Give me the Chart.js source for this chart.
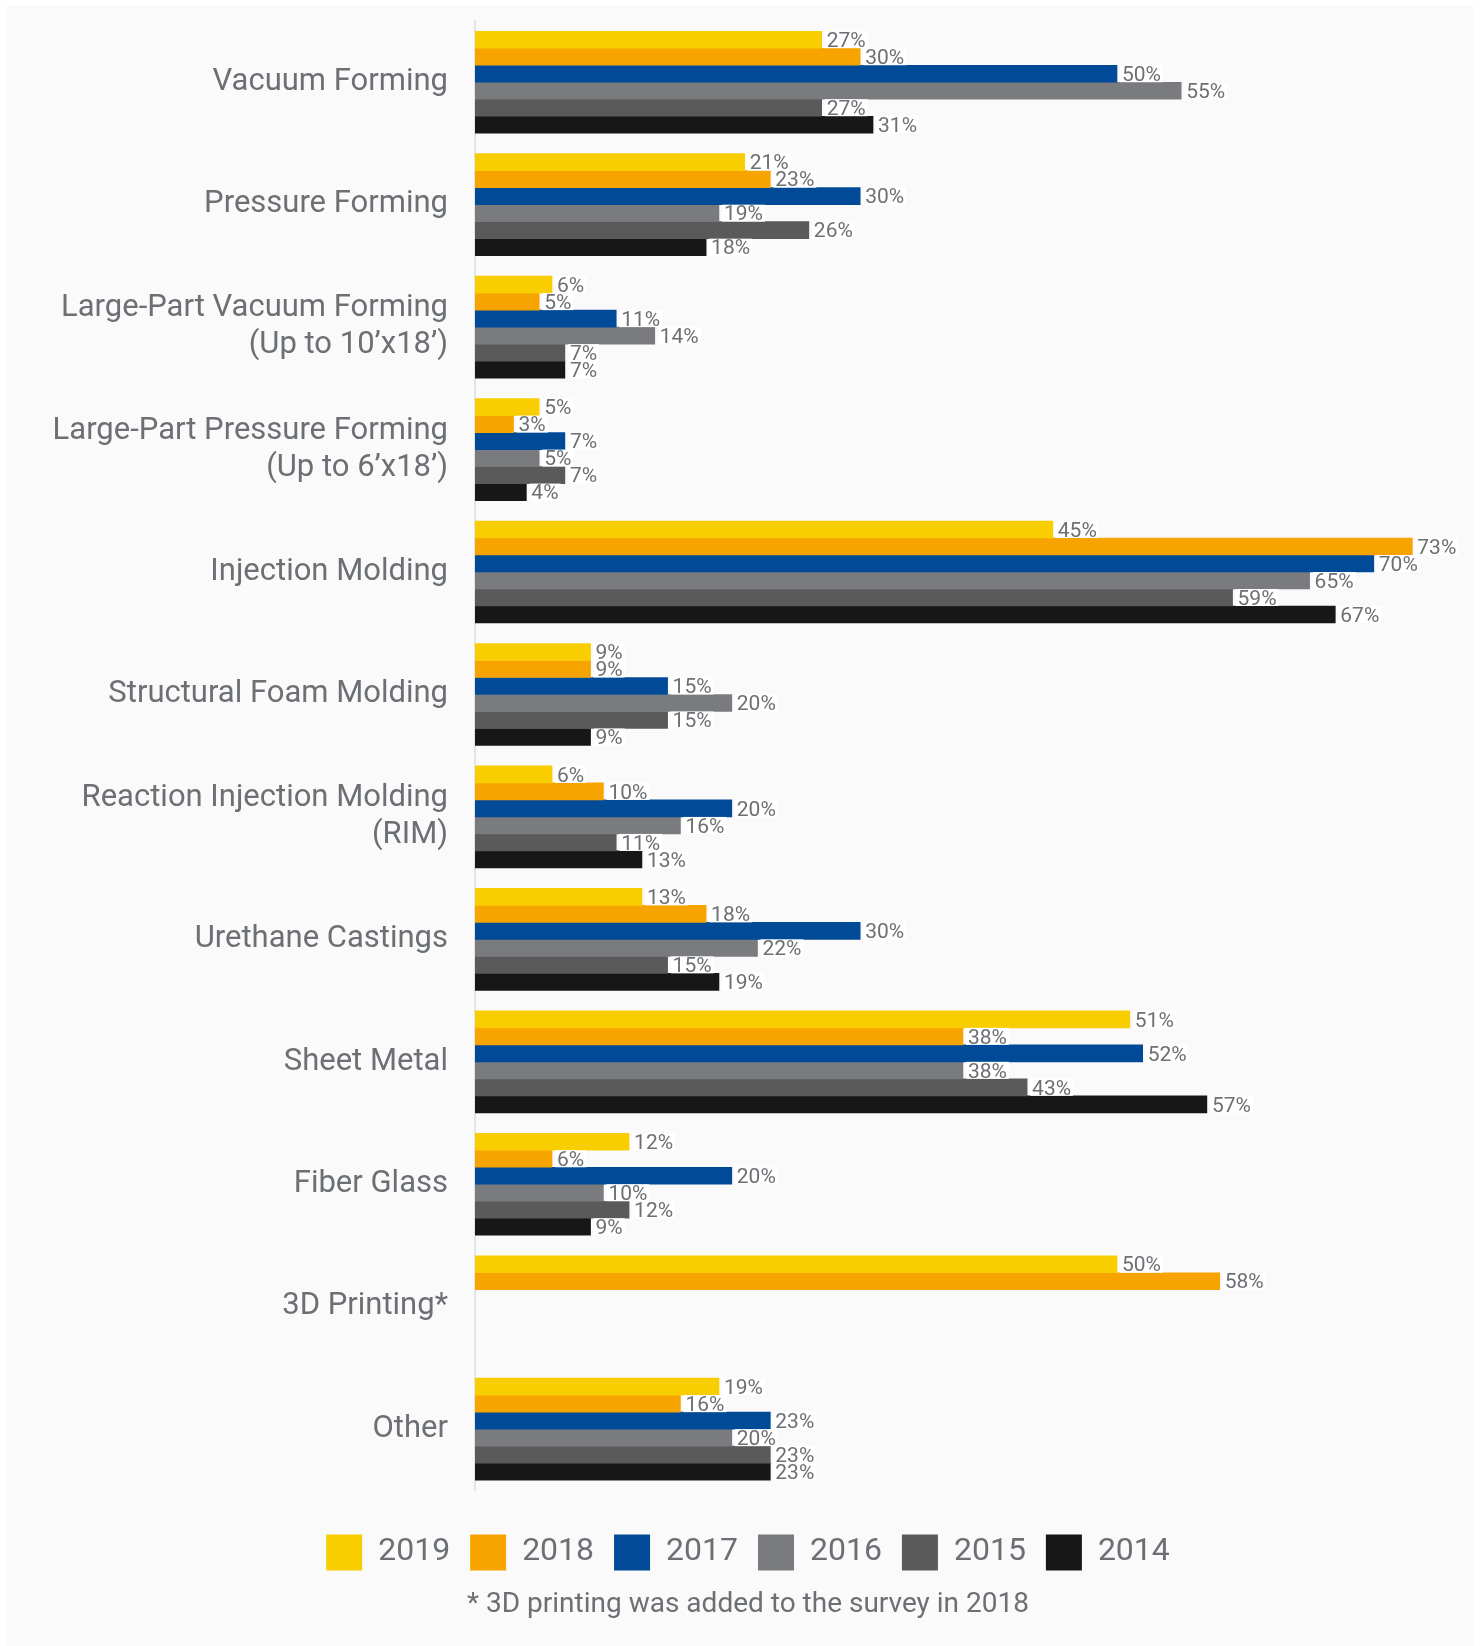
<!DOCTYPE html>
<html>
<head>
<meta charset="utf-8">
<title>Processes used</title>
<script src="https://cdn.jsdelivr.net/npm/chart.js@4.4.1/dist/chart.umd.min.js"></script>
<style>
  html, body { margin: 0; padding: 0; background: #ffffff; }
  #panel { position: absolute; left: 6px; top: 5px; width: 1468px; height: 1641px; background: #fafafa; }
</style>
</head>
<body>
<div id="panel"><canvas id="chart"></canvas></div>
<script>
// Manufacturing processes (one bar group each)
const categories = [
  'Vacuum Forming',
  'Pressure Forming',
  ['Large-Part Vacuum Forming', '(Up to 10\u2019x18\u2019)'],
  ['Large-Part Pressure Forming', '(Up to 6\u2019x18\u2019)'],
  'Injection Molding',
  'Structural Foam Molding',
  ['Reaction Injection Molding', '(RIM)'],
  'Urethane Castings',
  'Sheet Metal',
  'Fiber Glass',
  '3D Printing*',
  'Other'
];

// Survey years, newest first
const years = ['2019', '2018', '2017', '2016', '2015', '2014'];

// Share of respondents (%) per process and year
const values2019 = [27, 21, 6, 5, 45, 9, 6, 13, 51, 12, 50, 19];
const values2018 = [30, 23, 5, 3, 73, 9, 10, 18, 38, 6, 58, 16];
const values2017 = [50, 30, 11, 7, 70, 15, 20, 30, 52, 20, null, 23];
const values2016 = [55, 19, 14, 5, 65, 20, 16, 22, 38, 10, null, 20];
const values2015 = [27, 26, 7, 7, 59, 15, 11, 15, 43, 12, null, 23];
const values2014 = [31, 18, 7, 4, 67, 9, 13, 19, 57, 9, null, 23];

const seriesValues = [values2019, values2018, values2017, values2016, values2015, values2014];
const seriesColors = ['#f9ce00', '#f8a400', '#004a98', '#797b7f', '#5a5a5a', '#171717'];

const footnote = '* 3D printing was added to the survey in 2018';

const textGray = '#6c6f73';
const AXIS_X = 469;        // left edge of the plotting area
const FOOTER_SHIFT = 26;   // legend and footnote are centred a little right of the canvas middle

// Percentage label at the end of every bar
const valueLabels = {
  id: 'valueLabels',
  afterDatasetsDraw(chart) {
    const ctx = chart.ctx;
    ctx.save();
    ctx.font = '21px Roboto';
    ctx.textAlign = 'left';
    ctx.textBaseline = 'middle';
    const items = [];
    chart.data.datasets.forEach((ds, di) => {
      const meta = chart.getDatasetMeta(di);
      meta.data.forEach((bar, i) => {
        const v = ds.data[i];
        if (v === null || v === undefined) return;
        const text = v + '%';
        items.push({ text, x: bar.x + 5, y: bar.y, h: bar.height, w: ctx.measureText(text).width });
      });
    });
    ctx.fillStyle = '#ffffff';
    items.forEach(it => ctx.fillRect(it.x - 2, it.y - it.h / 2, it.w + 4, it.h));
    ctx.fillStyle = textGray;
    items.forEach(it => ctx.fillText(it.text, it.x, it.y + 2));
    ctx.restore();
  }
};

// Moves the bottom legend and footnote boxes sideways after layout
const footerOffset = {
  id: 'footerOffset',
  afterLayout(chart) {
    chart.boxes
      .filter(b => !b.axis && b.options && b.options.position === 'bottom')
      .forEach(b => { b.left += FOOTER_SHIFT; b.right += FOOTER_SHIFT; });
  }
};

Chart.defaults.font.family = 'Roboto';

new Chart(document.getElementById('chart'), {
  type: 'bar',
  data: {
    labels: categories,
    datasets: years.map((year, i) => ({
      label: year,
      data: seriesValues[i],
      backgroundColor: seriesColors[i],
      borderWidth: 0,
      barThickness: 17
    }))
  },
  options: {
    indexAxis: 'y',
    responsive: true,
    maintainAspectRatio: false,
    devicePixelRatio: 1,
    animation: false,
    layout: { padding: { top: 16, left: 0, right: 36, bottom: 0 } },
    scales: {
      x: {
        min: 0,
        max: 75,
        display: true,
        ticks: { display: false },
        grid: { display: false, drawTicks: false },
        border: { display: false },
        afterFit(scale) { scale.height = 24; }
      },
      y: {
        type: 'category',
        offset: true,
        grid: { display: false, drawTicks: false },
        border: { display: true, color: '#e4e4e4', width: 2 },
        ticks: {
          autoSkip: false,
          color: textGray,
          padding: 27,
          font: { family: 'Roboto', size: 31 }
        },
        afterFit(scale) {
          scale.width = AXIS_X;
          scale.paddingTop = 0;
          scale.paddingBottom = 0;
        }
      }
    },
    plugins: {
      tooltip: { enabled: false },
      legend: {
        position: 'bottom',
        align: 'center',
        labels: {
          boxWidth: 36,
          boxHeight: 36,
          padding: 20,
          color: textGray,
          font: { family: 'Roboto', size: 32 }
        }
      },
      subtitle: {
        display: true,
        position: 'bottom',
        text: footnote,
        color: textGray,
        font: { family: 'Roboto', size: 28, weight: 'normal' },
        padding: { top: 8, bottom: 24 }
      }
    }
  },
  plugins: [valueLabels, footerOffset]
});
</script>
</body>
</html>
